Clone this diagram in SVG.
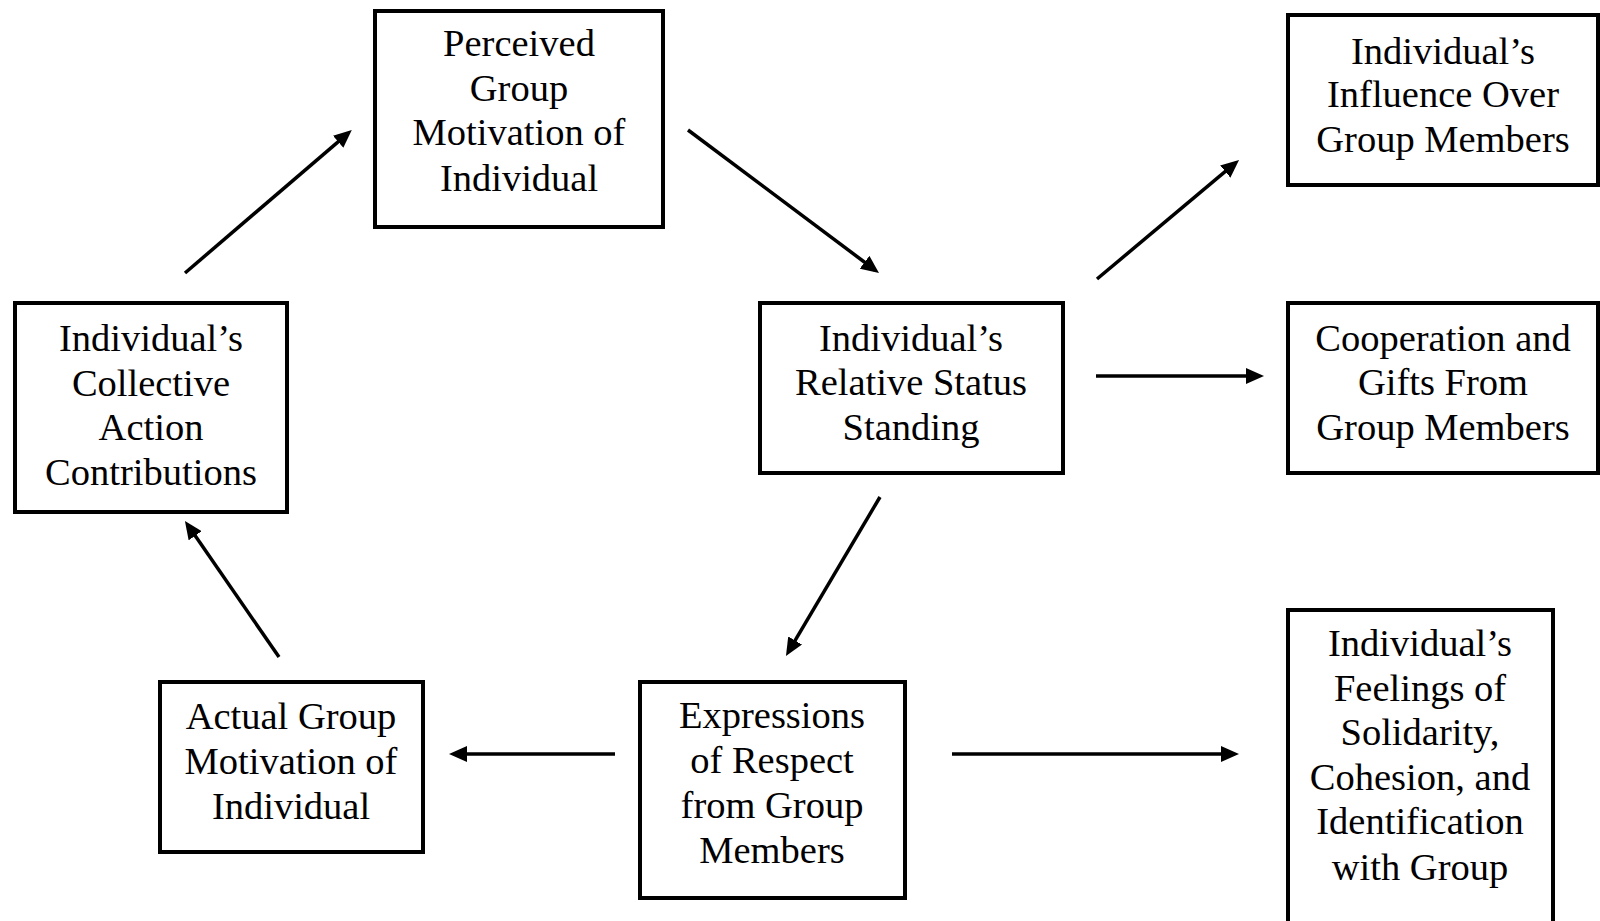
<svg xmlns="http://www.w3.org/2000/svg" width="1600" height="921" viewBox="0 0 1600 921">
<defs>
<style>
.box{fill:#fff;stroke:#000;stroke-width:4}
.lbl{font-family:"Liberation Serif","Times New Roman",serif;font-size:38.5px;fill:#000;text-anchor:middle}
.arr{stroke:#000;stroke-width:3.5;fill:none;marker-end:url(#ah)}
</style>
<marker id="ah" markerUnits="userSpaceOnUse" markerWidth="18" markerHeight="16" refX="13" refY="8" orient="auto">
<path d="M0,0 L18,8 L0,16 z" fill="#000"/>
</marker>
</defs>
<rect width="1600" height="921" fill="#fff"/>
<g id="connectors">
<line class="arr" x1="185" y1="273" x2="348" y2="133.3"/>
<line class="arr" x1="688" y1="130" x2="875" y2="270"/>
<line class="arr" x1="1097" y1="279" x2="1235.2" y2="163.2"/>
<line class="arr" x1="1096" y1="376" x2="1259" y2="376"/>
<line class="arr" x1="880" y1="497" x2="788.5" y2="651.7"/>
<line class="arr" x1="279" y1="657" x2="187.8" y2="525.1"/>
<line class="arr" x1="615" y1="754" x2="454" y2="754"/>
<line class="arr" x1="952" y1="754" x2="1234" y2="754"/>
</g>
<g id="perceived">
<rect class="box" x="375" y="11" width="288" height="216"/>
<text class="lbl"><tspan x="519" y="56">Perceived</tspan><tspan x="519" y="101">Group</tspan><tspan x="519" y="145">Motivation of</tspan><tspan x="519" y="191">Individual</tspan></text>
</g>
<g id="collective">
<rect class="box" x="15" y="303" width="272" height="209"/>
<text class="lbl"><tspan x="151" y="351">Individual’s</tspan><tspan x="151" y="396">Collective</tspan><tspan x="151" y="440">Action</tspan><tspan x="151" y="485">Contributions</tspan></text>
</g>
<g id="status">
<rect class="box" x="760" y="303" width="303" height="170"/>
<text class="lbl"><tspan x="911" y="351">Individual’s</tspan><tspan x="911" y="395">Relative Status</tspan><tspan x="911" y="440">Standing</tspan></text>
</g>
<g id="influence">
<rect class="box" x="1288" y="15" width="310" height="170"/>
<text class="lbl"><tspan x="1443" y="64">Individual’s</tspan><tspan x="1443" y="107">Influence Over</tspan><tspan x="1443" y="152">Group Members</tspan></text>
</g>
<g id="cooperation">
<rect class="box" x="1288" y="303" width="310" height="170"/>
<text class="lbl"><tspan x="1443" y="351">Cooperation and</tspan><tspan x="1443" y="395">Gifts From</tspan><tspan x="1443" y="440">Group Members</tspan></text>
</g>
<g id="feelings">
<rect class="box" x="1288" y="610" width="265" height="330"/>
<text class="lbl"><tspan x="1420" y="656">Individual’s</tspan><tspan x="1420" y="701">Feelings of</tspan><tspan x="1420" y="745">Solidarity,</tspan><tspan x="1420" y="790">Cohesion, and</tspan><tspan x="1420" y="834">Identification</tspan><tspan x="1420" y="880">with Group</tspan></text>
</g>
<g id="expressions">
<rect class="box" x="640" y="682" width="265" height="216"/>
<text class="lbl"><tspan x="772" y="728">Expressions</tspan><tspan x="772" y="773">of Respect</tspan><tspan x="772" y="818">from Group</tspan><tspan x="772" y="863">Members</tspan></text>
</g>
<g id="actual">
<rect class="box" x="160" y="682" width="263" height="170"/>
<text class="lbl"><tspan x="291" y="729">Actual Group</tspan><tspan x="291" y="774">Motivation of</tspan><tspan x="291" y="819">Individual</tspan></text>
</g>
</svg>
